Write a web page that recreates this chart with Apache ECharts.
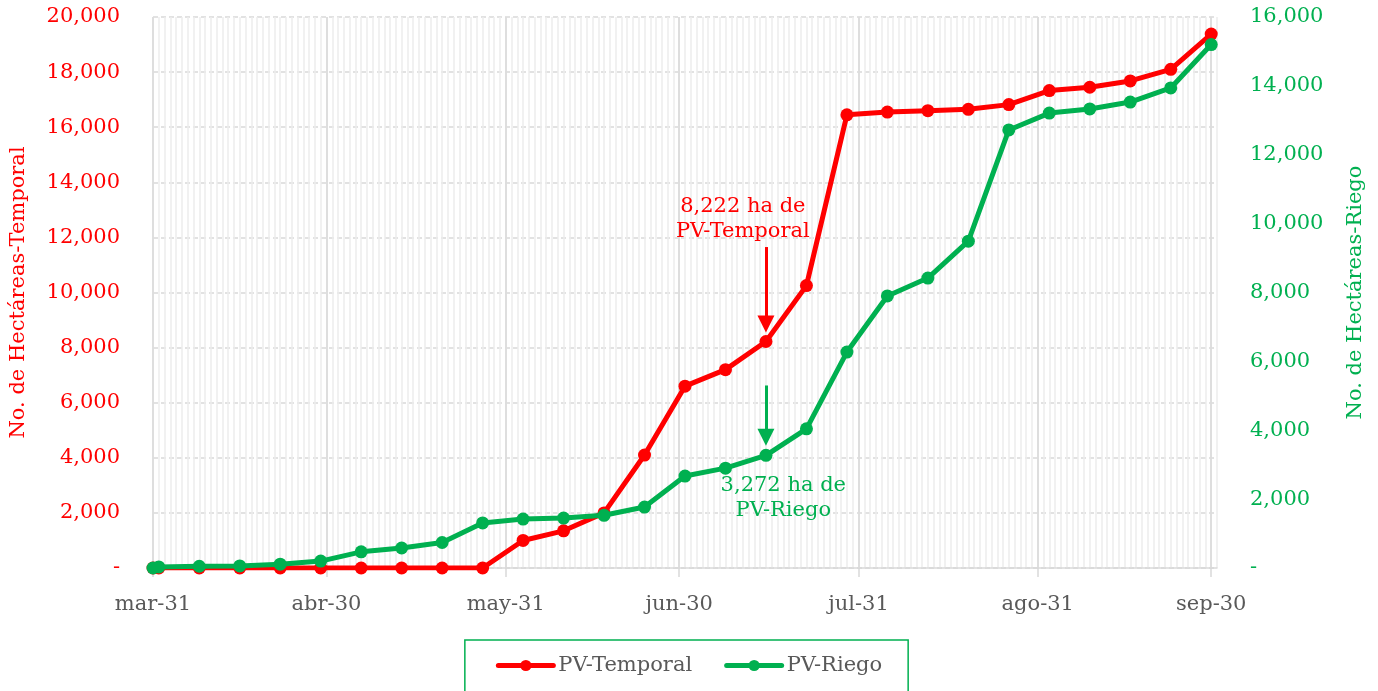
<!DOCTYPE html>
<html>
<head>
<meta charset="utf-8">
<script src="https://cdn.jsdelivr.net/npm/echarts@6/dist/echarts.min.js"></script>
<style>html,body{margin:0;padding:0;background:#fff}#c{width:1378px;height:691px}</style>
</head>
<body>
<div id="c"></div>
<script>
// ---- data ----
const tickLabels = ['mar-31','abr-30','may-31','jun-30','jul-31','ago-31','sep-30'];
const dates = ['mar-31','abr-01','abr-08','abr-15','abr-22','abr-29','may-06','may-13','may-20','may-27',
  'jun-03','jun-10','jun-17','jun-24','jul-01','jul-08','jul-15','jul-22','jul-29','ago-05','ago-12',
  'ago-19','ago-26','sep-02','sep-09','sep-16','sep-23','sep-30'];
const temporal = [0,0,0,0,0,0,0,0,0,0,1000,1350,2000,4100,6600,7200,8222,10250,16450,16550,16600,16650,
  16820,17330,17450,17680,18100,19380];
const riego = [0,30,50,60,110,200,470,580,740,1310,1420,1450,1530,1770,2670,2900,3272,4040,6270,7900,8420,
  9490,12720,13210,13330,13530,13940,15200];
const seriesNames = ['PV-Temporal','PV-Riego'];
const axisNames = ['No. de Hectáreas-Temporal','No. de Hectáreas-Riego'];
const noteTemporal = '8,222 ha de\nPV-Temporal';
const noteRiego = '3,272 ha de\nPV-Riego';

// daily categories from mar-31 to oct-01
const months = ['ene','feb','mar','abr','may','jun','jul','ago','sep','oct','nov','dic'];
const dayKeys = [];
for (let d = new Date(2021, 2, 31); d <= new Date(2021, 9, 1); d.setDate(d.getDate() + 1)) {
  dayKeys.push(months[d.getMonth()] + '-' + String(d.getDate()).padStart(2, '0'));
}
const idx = k => dayKeys.indexOf(k);
const isMajor = (i) => tickLabels.indexOf(dayKeys[i]) >= 0;

const RED = '#ff0000', GREEN = '#00b050', GREY = '#595959';
const FONT = 'DejaVu Serif';
const FS = 21;
const fmt = v => v === 0 ? '-' : v.toLocaleString('en-US');

const chart = echarts.init(document.getElementById('c'), null, {renderer: 'canvas'});
chart.setOption({
  animation: false,
  textStyle: {fontFamily: FONT},
  grid: {left: 153, right: 161, top: 17, bottom: 123, containLabel: false, outerBoundsMode: 'none'},
  legend: {
    data: seriesNames, top: 640, left: 'center',
    borderColor: GREEN, borderWidth: 1.5, padding: [15, 26, 16, 31],
    itemWidth: 55, itemHeight: 14, itemGap: 32,
    lineStyle: {width: 5, cap: 'round'},
    textStyle: {fontFamily: FONT, fontSize: FS, color: GREY}
  },
  xAxis: [{
    type: 'category', data: dayKeys, boundaryGap: false, z: 2,
    axisLine: {lineStyle: {color: '#d9d9d9', width: 1.5}},
    axisTick: {show: true, interval: (i) => isMajor(i), length: 9, lineStyle: {color: '#d9d9d9', width: 1.5}},
    axisLabel: {interval: (i) => isMajor(i), margin: 26, color: GREY, fontSize: FS, fontFamily: FONT},
    splitLine: {show: true, interval: (i) => isMajor(i), lineStyle: {color: '#d9d9d9', width: 1.5}}
  }, {
    type: 'category', data: dayKeys, boundaryGap: false, position: 'bottom', z: 0,
    axisLine: {show: false}, axisTick: {show: false}, axisLabel: {show: false},
    splitLine: {show: true, interval: 0, lineStyle: {color: '#ededed', width: 1.5}}
  }],
  yAxis: [{
    type: 'value', min: 0, max: 20000, interval: 2000, position: 'left',
    name: axisNames[0], nameLocation: 'middle', nameGap: 124, nameRotate: 90,
    nameTextStyle: {color: RED, fontSize: FS, fontFamily: FONT},
    axisLine: {show: false}, axisTick: {show: false},
    axisLabel: {color: RED, fontSize: FS, margin: 33, formatter: fmt, fontFamily: FONT},
    splitLine: {show: true, lineStyle: {color: '#d9d9d9', width: 1.5, type: [5, 3]}}
  }, {
    type: 'value', min: 0, max: 16000, interval: 2000, position: 'right',
    name: axisNames[1], nameLocation: 'middle', nameGap: 128, nameRotate: 90,
    nameTextStyle: {color: GREEN, fontSize: FS, fontFamily: FONT},
    axisLine: {show: false}, axisTick: {show: false},
    axisLabel: {color: GREEN, fontSize: FS, margin: 33, formatter: fmt, fontFamily: FONT},
    splitLine: {show: false}
  }],
  series: [{
    name: seriesNames[0], type: 'line', xAxisIndex: 0, yAxisIndex: 0,
    data: dates.map((d, i) => [idx(d), temporal[i]]),
    symbol: 'circle', symbolSize: 13, showSymbol: true, showAllSymbol: true,
    lineStyle: {color: RED, width: 5}, itemStyle: {color: RED},
    z: 3,
    markPoint: {
      silent: true, symbol: 'rect', symbolSize: 1, itemStyle: {color: 'rgba(0,0,0,0)'},
      label: {show: true, position: 'inside', formatter: noteTemporal, color: RED, fontSize: FS, lineHeight: 25, fontFamily: FONT},
      data: [{coord: [idx('jul-11'), 12650]}]
    },
    markLine: {
      silent: true, symbol: ['none', 'triangle'], symbolSize: 17, label: {show: false},
      lineStyle: {color: RED, width: 3, type: 'solid'},
      data: [[{coord: [idx('jul-15'), 11650]}, {coord: [idx('jul-15'), 8860]}]]
    }
  }, {
    name: seriesNames[1], type: 'line', xAxisIndex: 0, yAxisIndex: 1,
    data: dates.map((d, i) => [idx(d), riego[i]]),
    symbol: 'circle', symbolSize: 13, showSymbol: true, showAllSymbol: true,
    lineStyle: {color: GREEN, width: 5}, itemStyle: {color: GREEN},
    z: 4,
    markPoint: {
      silent: true, symbol: 'rect', symbolSize: 1, itemStyle: {color: 'rgba(0,0,0,0)'},
      label: {show: true, position: 'inside', formatter: noteRiego, color: GREEN, fontSize: FS, lineHeight: 25, fontFamily: FONT},
      data: [{coord: [idx('jul-18'), 2020]}]
    },
    markLine: {
      silent: true, symbol: ['none', 'triangle'], symbolSize: 17, label: {show: false},
      lineStyle: {color: GREEN, width: 3, type: 'solid'},
      data: [[{coord: [idx('jul-15'), 5300]}, {coord: [idx('jul-15'), 3800]}]]
    }
  }]
});
</script>
</body>
</html>
